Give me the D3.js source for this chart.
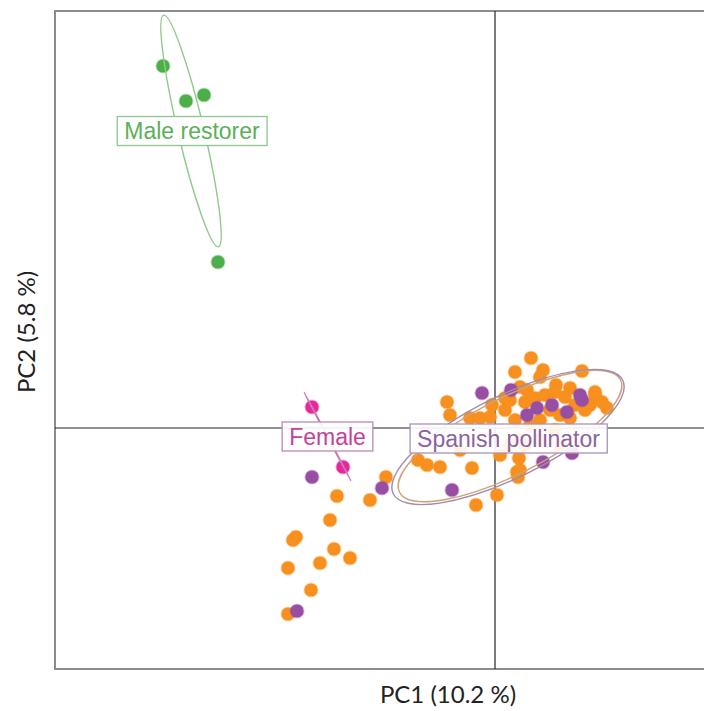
<!DOCTYPE html>
<html>
<head>
<meta charset="utf-8">
<script src="https://cdn.jsdelivr.net/npm/d3@7"></script>
<style>
  body { margin: 0; background: #fff; }
  svg { display: block; }
</style>
</head>
<body>
<svg id="chart" width="704" height="711"></svg>
<script>
// PCA scores (PC1, PC2)
var groups = ["Spanish pollinator B", "Spanish pollinator", "Male restorer", "Female"];
var colors = ["#f7901e", "#984ea3", "#4daf4a", "#e6289a"];

var orangePC1 = [-1.58, -1.25, -1.09, -1.65, -1.99, -2.02, -1.61, -1.45, -1.75, -2.07, -1.84, -2.07,
    -0.77, -0.68, -0.55, -0.23, -0.48, -0.45, -0.25, -0.15, -0.05, 0.02, -0.19,
    0.22, 0.23, 0.24, 0.25,
    0.36, 0.48, 0.45, 0.87, 0.25, 0.32, 1.07, 1.12,
    0.15, 0.30, 0.40, 0.50, 0.60, 0.70, 0.55, 0.65, 0.45, 0.35, 0.20, 0.10, 0.75, 0.80, 0.95, 1.00, 0.90,
    0.25, 0.30, 0.15, 0.05, 0.45, 0.60, 0.65, -0.35,
    0.20, 0.61, 0.75, 1.00, -0.03, 0.10];
var orangePC2 = [-0.68, -0.72, -0.49, -0.92, -1.09, -1.12, -1.21, -1.30, -1.35, -1.40, -1.62, -1.86,
    -0.32, -0.37, -0.39, -0.40, 0.26, 0.13, 0.10, 0.10, 0.11, -0.67, -0.77,
    -0.44, -0.49, -0.30, -0.42,
    0.70, 0.58, 0.51, 0.57, 0.41, 0.38, 0.26, 0.20,
    0.28, 0.26, 0.30, 0.33, 0.36, 0.31, 0.18, 0.13, 0.08, 0.03, 0.08, 0.18, 0.10, 0.23, 0.23, 0.33, 0.18,
    -0.12, -0.17, -0.17, -0.27, -0.12, -0.02, -0.17, -0.22,
    0.56, 0.43, 0.40, 0.36, 0.23, 0.30];

var purplePC1 = [-0.13, 0.16, 0.85, 0.87, 0.57, 0.42, 0.32, 0.72, 0.77, 0.48, -0.43, -1.13, -1.83, -1.98];
var purplePC2 = [0.35, 0.38, 0.33, 0.28, 0.23, 0.20, 0.13, 0.16, -0.25, -0.34, -0.62, -0.60, -0.49, -1.83];

var malePC1 = [-3.32, -3.09, -2.91, -2.77];
var malePC2 = [3.62, 3.27, 3.33, 1.66];

var femalePC1 = [-1.83, -1.52];
var femalePC2 = [0.21, -0.39];

// confidence ellipses: centre, semi axes (PC units), rotation (deg, on screen)
var ellCx = [0.15, 0.13, -3.04, -1.675];
var ellCy = [-0.08, -0.09, 2.97, -0.085];
var ellA = [1.24, 1.28, 1.19, 0.503];
var ellB = [0.38, 0.41, 0.13, 0.004];
var ellRot = [-27, -26.3, 76.7, 62.2];
var ellStroke = ["#cfa27a", "#a08cae", "#8fca8b", "#c87ab8"];

var labelText = ["Male restorer", "Female", "Spanish pollinator"];
var labelCx = [-3.03, -1.675, 0.135];
var labelCy = [2.97, -0.085, -0.105];
var labelColor = ["#5cb057", "#c4429c", "#8a64a0"];
var labelBorder = ["#8cc68a", "#b98ab4", "#a892b6"];

var svg = d3.select("#chart");

var m = { left: 55, top: 11, right: 715, bottom: 669 };
var x = d3.scaleLinear().domain([-4.4, 2.2]).range([m.left, m.right]);
var y = d3.scaleLinear().domain([-2.41, 4.17]).range([m.bottom, m.top]);
var unit = x(1) - x(0);

// frame
svg.append("rect")
    .attr("x", m.left)
    .attr("y", m.top)
    .attr("width", m.right - m.left)
    .attr("height", m.bottom - m.top)
    .attr("fill", "none")
    .attr("stroke", "#8c8c8c")
    .attr("stroke-width", 2);

// zero lines
svg.append("line")
    .attr("x1", x(0)).attr("x2", x(0))
    .attr("y1", m.top).attr("y2", m.bottom)
    .attr("stroke", "#222").attr("stroke-width", 1.2);
svg.append("line")
    .attr("x1", m.left).attr("x2", m.right)
    .attr("y1", y(0)).attr("y2", y(0))
    .attr("stroke", "#222").attr("stroke-width", 1.2);

// points
function drawPoints(xs, ys, color) {
    svg.append("g")
        .selectAll("circle")
        .data(xs.map(function (d, i) { return [d, ys[i]]; }))
        .join("circle")
        .attr("cx", function (d) { return x(d[0]); })
        .attr("cy", function (d) { return y(d[1]); })
        .attr("r", 6.6)
        .attr("fill", color)
        .attr("stroke", color)
        .attr("stroke-opacity", 0.35)
        .attr("stroke-width", 2);
}
drawPoints(orangePC1, orangePC2, colors[0]);
drawPoints(purplePC1, purplePC2, colors[1]);
drawPoints(malePC1, malePC2, colors[2]);
drawPoints(femalePC1, femalePC2, colors[3]);

// ellipses
svg.append("g")
    .selectAll("ellipse")
    .data(ellCx.map(function (d, i) { return i; }))
    .join("ellipse")
    .attr("transform", function (i) {
        return "translate(" + x(ellCx[i]) + "," + y(ellCy[i]) + ") rotate(" + ellRot[i] + ")";
    })
    .attr("rx", function (i) { return ellA[i] * unit; })
    .attr("ry", function (i) { return Math.max(ellB[i] * unit, 0.4); })
    .attr("fill", "none")
    .attr("stroke", function (i) { return ellStroke[i]; })
    .attr("stroke-width", 1.4);

// group labels
labelText.forEach(function (t, i) {
    var g = svg.append("g");
    var box = g.append("rect");
    var txt = g.append("text")
        .attr("x", x(labelCx[i]))
        .attr("y", y(labelCy[i]))
        .attr("dy", "0.36em")
        .attr("text-anchor", "middle")
        .attr("font-family", "Liberation Sans, Arial, sans-serif")
        .attr("font-size", 23)
        .attr("fill", labelColor[i])
        .text(t);
    var bb = txt.node().getBBox();
    box.attr("x", bb.x - 7)
        .attr("y", y(labelCy[i]) - 14.5)
        .attr("width", bb.width + 14)
        .attr("height", 29)
        .attr("fill", "#fff")
        .attr("fill-opacity", 0.9)
        .attr("stroke", labelBorder[i])
        .attr("stroke-width", 1.3);
});

// axis titles
svg.append("text")
    .attr("x", 448)
    .attr("y", 703)
    .attr("text-anchor", "middle")
    .attr("font-family", "Lato, Open Sans, sans-serif")
    .attr("font-size", 24)
    .attr("fill", "#222")
    .text("PC1 (10.2 %)");

svg.append("text")
    .attr("transform", "translate(35,332) rotate(-90)")
    .attr("text-anchor", "middle")
    .attr("font-family", "Lato, Open Sans, sans-serif")
    .attr("font-size", 24)
    .attr("fill", "#222")
    .text("PC2 (5.8 %)");
</script>
</body>
</html>
